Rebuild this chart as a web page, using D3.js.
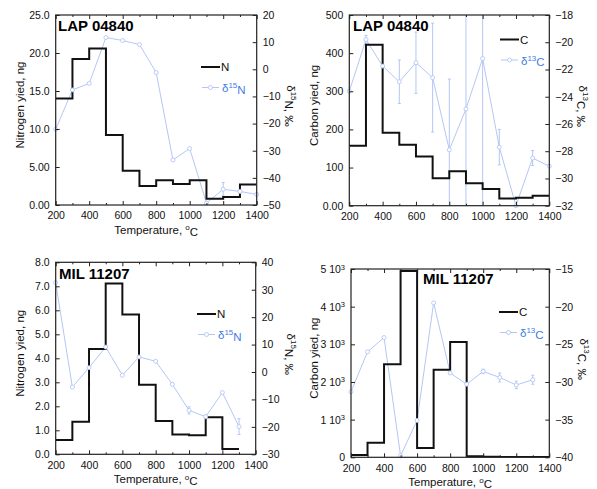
<!DOCTYPE html>
<html>
<head>
<meta charset="utf-8">
<script src="https://cdn.jsdelivr.net/npm/d3@7"></script>
<style>
  body { margin: 0; background: #fff; }
  svg { font-family: "Liberation Sans", Arial, Helvetica, sans-serif; }
</style>
</head>
<body>
<div id="chart"></div>
<script>
// temperature steps (start of each step), deg C
var temps = [200, 300, 400, 500, 600, 700, 800, 900, 1000, 1100, 1200, 1300, 1400];

// LAP 04840
var lapN = [14.0, 19.2, 20.6, 9.2, 4.5, 2.5, 3.25, 2.76, 3.25, 0.83, 1.05, 2.7];
var lapD15N = [-22.1, -7.6, -5.2, 11.7, 10.6, 9.1, -1.2, -33.4, -29.2, -49.3, -44.2, -45, -46.1];
var lapD15NErr = [0, 0, 0, 0, 0, 0, 0, 0, 0, 0, 2.5, 0.6, 0];
var lapC = [157, 422, 191, 160, 129, 72, 90, 59, 44, 19, 21, 26];
var lapD13C = [-23.6, -19.8, -21.75, -22.9, -21.5, -22.6, -27.9, -24.9, -21.2, -27.7, -32.0, -28.5, -29.1];
var lapD13CErr = [0, 0.3, 0, 1.6, 2.25, 4.0, 5.2, 12, 12, 1.3, 0, 0.55, 0];

// MIL 11207
var milN = [0.6, 1.36, 4.39, 7.12, 5.83, 2.9, 1.39, 0.83, 0.79, 1.54, 0.22];
var milD15N = [32.6, -5.5, 1.6, 9.1, -1.2, 5.5, 3.9, -4.5, -14, -16.3, -7.5, -19.9];
var milD15NErr = [0, 0, 0, 0, 0, 0, 0, 0, 1.3, 0.6, 0, 2.9];
var milC = [62, 389, 2469, 4947, 248, 2327, 3062, 27, 15, 10, 8, 6];
var milD13C = [-31.3, -26.0, -24.1, -39.8, -35.1, -19.5, -28.8, -30.3, -28.6, -29.4, -30.4, -29.7];
var milD13CErr = [0, 0, 0, 0, 0, 0, 0, 0, 0.3, 0.6, 0.5, 0.6];

// tick labels
var xTicks = [200, 400, 600, 800, 1000, 1200, 1400];
var lapNTicks = ["0.00", "5.00", "10.0", "15.0", "20.0", "25.0"];
var lapCTicks = ["0.00", "100", "200", "300", "400", "500"];
var milNTicks = ["0.0", "1.0", "2.0", "3.0", "4.0", "5.0", "6.0", "7.0", "8.0"];
var milCTicks = ["0", "1", "2", "3", "4", "5"];

var blueLine = "#b3c6f5";
var blueText = "#3f7ce8";

var svg = d3.select("#chart").append("svg")
  .attr("width", 597)
  .attr("height", 489);

function panel(p) {
  var x = d3.scaleLinear().domain([200, 1400]).range([p.left, p.right]);
  var yL = d3.scaleLinear().domain(p.leftDomain).range([p.bottom, p.top]);
  var yR = d3.scaleLinear().domain(p.rightDomain).range([p.bottom, p.top]);

  var g = svg.append("g");

  g.append("clipPath").attr("id", p.id)
    .append("rect")
    .attr("x", p.left).attr("y", p.top)
    .attr("width", p.right - p.left).attr("height", p.bottom - p.top);

  var plot = g.append("g").attr("clip-path", "url(#" + p.id + ")");

  // delta line with error bars
  var dpts = p.delta.map(function(v, i) { return { t: temps[i], v: v, e: p.deltaErr[i] }; });
  plot.selectAll(".err").data(dpts.filter(function(d) { return d.e > 0; }))
    .enter().append("g")
    .each(function(d) {
      var s = d3.select(this);
      s.append("line")
        .attr("x1", x(d.t)).attr("x2", x(d.t))
        .attr("y1", yR(d.v - d.e)).attr("y2", yR(d.v + d.e))
        .attr("stroke", blueLine).attr("stroke-width", 1);
      [d.v - d.e, d.v + d.e].forEach(function(c) {
        s.append("line")
          .attr("x1", x(d.t) - 1.5).attr("x2", x(d.t) + 1.5)
          .attr("y1", yR(c)).attr("y2", yR(c))
          .attr("stroke", blueLine).attr("stroke-width", 1);
      });
    });

  plot.append("path")
    .datum(dpts)
    .attr("fill", "none")
    .attr("stroke", blueLine)
    .attr("stroke-width", 1)
    .attr("d", d3.line().x(function(d) { return x(d.t); }).y(function(d) { return yR(d.v); }));

  // step line for yield
  var spts = p.yield.map(function(v, i) { return { t: temps[i], v: v }; });
  spts.push({ t: temps[p.yield.length], v: p.yield[p.yield.length - 1] });
  plot.append("path")
    .datum(spts)
    .attr("fill", "none")
    .attr("stroke", "#111")
    .attr("stroke-width", 2)
    .attr("d", d3.line().curve(d3.curveStepAfter)
      .x(function(d) { return x(d.t); }).y(function(d) { return yL(d.v); }));

  g.selectAll(".mk").data(dpts).enter().append("circle")
    .attr("cx", function(d) { return x(d.t); })
    .attr("cy", function(d) { return yR(d.v); })
    .attr("r", 2)
    .attr("fill", "#fff")
    .attr("stroke", blueLine)
    .attr("stroke-width", 0.9);

  // frame
  g.append("rect")
    .attr("x", p.left).attr("y", p.top)
    .attr("width", p.right - p.left).attr("height", p.bottom - p.top)
    .attr("fill", "none").attr("stroke", "#222").attr("stroke-width", 1.2);

  // bottom axis
  var bottomAxis = d3.axisBottom(x).tickValues(xTicks).tickSize(-4).tickPadding(7)
    .tickFormat(d3.format("d"));
  var ba = g.append("g").attr("transform", "translate(0," + p.bottom + ")").call(bottomAxis);
  var topAxis = d3.axisTop(x).tickValues(xTicks).tickSize(-4).tickFormat("");
  var ta = g.append("g").attr("transform", "translate(0," + p.top + ")").call(topAxis);
  var minorX = d3.range(300, 1400, 200);
  var bm = g.append("g").attr("transform", "translate(0," + p.bottom + ")")
    .call(d3.axisBottom(x).tickValues(minorX).tickSize(-2).tickFormat(""));
  var tm = g.append("g").attr("transform", "translate(0," + p.top + ")")
    .call(d3.axisTop(x).tickValues(minorX).tickSize(-2).tickFormat(""));

  // left axis
  var lt = d3.range(p.leftTicks.length).map(function(i) { return p.leftDomain[0] + i * p.leftStep; });
  var leftAxis = d3.axisLeft(yL).tickValues(lt).tickSize(-4).tickPadding(6)
    .tickFormat(function(d, i) { return p.leftTicks[i]; });
  var la = g.append("g").attr("transform", "translate(" + p.left + ",0)").call(leftAxis);
  if (p.sci) {
    la.selectAll(".tick text").each(function(d, i) {
      var t = d3.select(this);
      var lab = p.leftTicks[i];
      t.text(null);
      if (lab === "0") { t.text("0"); return; }
      t.append("tspan").text(lab + " 10");
      t.append("tspan").attr("dy", "-0.45em").attr("font-size", "7.5px").text("3");
    });
  }

  // right axis
  var rt = d3.range(p.rightDomain[0], p.rightDomain[1] + 0.001, p.rightStep);
  var rightAxis = d3.axisRight(yR).tickValues(rt).tickSize(-4).tickPadding(6)
    .tickFormat(d3.format("d"));
  var ra = g.append("g").attr("transform", "translate(" + p.right + ",0)").call(rightAxis);

  [ba, ta, bm, tm, la, ra].forEach(function(a) {
    a.select(".domain").remove();
    a.selectAll(".tick line").attr("stroke", "#222");
    a.selectAll(".tick text").attr("font-size", "10.5px").attr("fill", "#111")
      .attr("font-family", "Liberation Sans, Arial, sans-serif");
  });

  // panel title
  g.append("text")
    .attr("x", p.titleX).attr("y", p.titleY)
    .attr("font-size", "15px").attr("font-weight", "bold").attr("fill", "#000")
    .text(p.title);

  // legend
  g.append("line")
    .attr("x1", p.legX).attr("x2", p.legX + 19)
    .attr("y1", p.legY).attr("y2", p.legY)
    .attr("stroke", "#111").attr("stroke-width", 2);
  g.append("text")
    .attr("x", p.legX + 20).attr("y", p.legY + 4)
    .attr("font-size", "11.5px").attr("fill", "#111")
    .text(p.yieldName);
  g.append("line")
    .attr("x1", p.legX + 1).attr("x2", p.legX + 18)
    .attr("y1", p.legY + 20.5).attr("y2", p.legY + 20.5)
    .attr("stroke", blueLine).attr("stroke-width", 1);
  g.append("circle")
    .attr("cx", p.legX + 9.5).attr("cy", p.legY + 20.5).attr("r", 2)
    .attr("fill", "#fff").attr("stroke", blueLine).attr("stroke-width", 0.9);
  var lt2 = g.append("text")
    .attr("x", p.legX + 21).attr("y", p.legY + 25)
    .attr("font-size", "11.5px").attr("fill", blueText);
  lt2.append("tspan").text("\u03b4");
  lt2.append("tspan").attr("dy", "-0.45em").attr("font-size", "8px").text(p.iso);
  lt2.append("tspan").attr("dy", "0.45em").text(p.yieldName);

  // axis titles
  var cy = (p.top + p.bottom) / 2 - 5;
  g.append("text")
    .attr("transform", "translate(" + p.ltX + "," + cy + ") rotate(-90)")
    .attr("text-anchor", "middle").attr("font-size", "11.5px").attr("fill", "#111")
    .text(p.leftTitle);

  var rtt = g.append("text")
    .attr("transform", "translate(" + p.rtX + "," + (cy + 1) + ") rotate(90)")
    .attr("text-anchor", "middle").attr("font-size", "11.5px").attr("fill", "#111");
  rtt.append("tspan").text("\u03b4");
  rtt.append("tspan").attr("dy", "-0.45em").attr("font-size", "8px").text(p.iso);
  rtt.append("tspan").attr("dy", "0.45em").text(p.yieldName + ", \u2030");

  if (p.xTitle) {
    var xt = g.append("text")
      .attr("x", (p.left + p.right) / 2).attr("y", p.bottom + 29)
      .attr("text-anchor", "middle").attr("font-size", "11.5px").attr("fill", "#111");
    xt.append("tspan").text("Temperature, ");
    xt.append("tspan").attr("dy", "-0.45em").attr("font-size", "8px").text("o");
    xt.append("tspan").attr("dy", "0.45em").text("C");
  }
}

panel({
  id: "c1", left: 55.7, right: 256.7, top: 15, bottom: 205,
  leftDomain: [0, 25], leftStep: 5, leftTicks: lapNTicks,
  rightDomain: [-50, 20], rightStep: 10,
  yield: lapN, delta: lapD15N, deltaErr: lapD15NErr,
  yieldName: "N", iso: "15", title: "LAP 04840", titleX: 58, titleY: 31,
  legX: 201, legY: 67, leftTitle: "Nitrogen yied,  ng", ltX: 24, rtX: 287, xTitle: true
});

panel({
  id: "c2", left: 349.3, right: 549.3, top: 15, bottom: 205.7,
  leftDomain: [0, 500], leftStep: 100, leftTicks: lapCTicks,
  rightDomain: [-32, -18], rightStep: 2,
  yield: lapC, delta: lapD13C, deltaErr: lapD13CErr,
  yieldName: "C", iso: "13", title: "LAP 04840", titleX: 353, titleY: 31,
  legX: 500, legY: 39.5, leftTitle: "Carbon yied,  ng", ltX: 318, rtX: 579, xTitle: false
});

panel({
  id: "c3", left: 55.7, right: 255.7, top: 262.3, bottom: 454.3,
  leftDomain: [0, 8], leftStep: 1, leftTicks: milNTicks,
  rightDomain: [-30, 40], rightStep: 10,
  yield: milN, delta: milD15N, deltaErr: milD15NErr,
  yieldName: "N", iso: "15", title: "MIL 11207", titleX: 59, titleY: 279,
  legX: 197, legY: 314, leftTitle: "Nitrogen yied,  ng", ltX: 24, rtX: 287, xTitle: true
});

panel({
  id: "c4", left: 351, right: 549.3, top: 269, bottom: 457.3,
  leftDomain: [0, 5000], leftStep: 1000, leftTicks: milCTicks, sci: true,
  rightDomain: [-40, -15], rightStep: 5,
  yield: milC, delta: milD13C, deltaErr: milD13CErr,
  yieldName: "C", iso: "13", title: "MIL 11207", titleX: 423, titleY: 284,
  legX: 499, legY: 312, leftTitle: "Carbon yied,  ng", ltX: 318, rtX: 580, xTitle: true
});
</script>
</body>
</html>
